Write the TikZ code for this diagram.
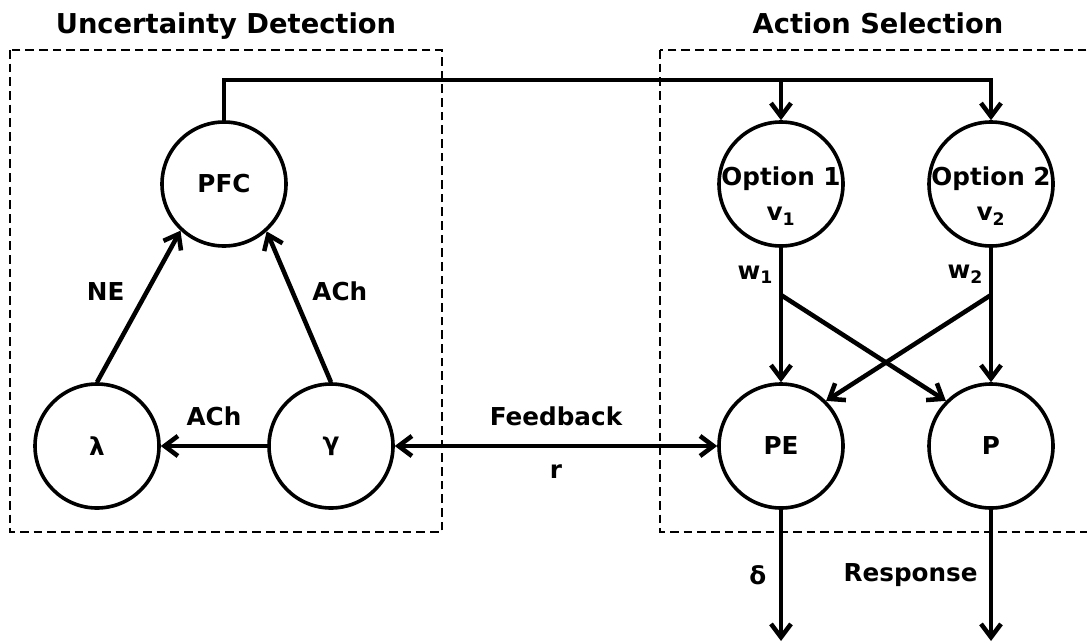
\documentclass[tikz,border=0pt]{standalone}
\usepackage{fontspec}
\setmainfont{DejaVu Sans}
\usetikzlibrary{arrows.meta}
\newcommand{\nodefont}{\bfseries\fontsize{18.5pt}{22.5pt}\selectfont}
\newcommand{\optfont}{\bfseries\fontsize{18.5pt}{26pt}\selectfont}
\newcommand{\titlefont}{\bfseries\fontsize{20.5pt}{24pt}\selectfont}

\begin{document}
\begin{tikzpicture}
[x=0.75pt,y=-0.75pt,font=\nodefont,
  >={Straight Barb[length=10pt,width=15pt]},
  nodedecorate/.style={shape=circle,draw,line width=2.7pt,minimum size=93pt,inner sep=0pt},%
  linedecorate/.style={->,line width=3.4pt},%
  boxdecorate/.style={draw,line width=1.1pt,dash pattern=on 6.5pt off 3.75pt}]
\useasboundingbox (0,0) rectangle (1087,642);
%% groups
\draw[boxdecorate] (10,50) rectangle (442,532);
\draw[boxdecorate] (660,50) rectangle (1095,532);
\node (udtitle) at (226,34) [anchor=base,font=\titlefont] {Uncertainty Detection};
\node (astitle) at (878,34) [anchor=base,font=\titlefont] {Action Selection};
%% nodes or vertices
\foreach \nodename/\x/\y/\nodetext in {PFC/224/184/PFC, lam/97/446/λ,
  gam/331/446/γ, PE/781/446/PE, P/991/446/P} {
  \node (\nodename) at (\x,\y) [nodedecorate] {\nodetext};
}
\foreach \nodename/\x/\idx in {opt1/781/1, opt2/991/2} {
  \node (\nodename) at (\x,184) [nodedecorate,
    label={[align=center,yshift=-9pt,font=\optfont]center:{Option \idx\\v\textsubscript{\idx}}}] {};
}
\coordinate (bus) at (224,80);
\coordinate (b1) at (781,295);
\coordinate (b2) at (991,295);
\coordinate (out1) at (781,641);
\coordinate (out2) at (991,641);
%% edges or lines
\draw[linedecorate] (PFC.north) -- (bus) -| (opt2.north);
\draw[linedecorate] (opt1 |- bus) -- (opt1.north);
\draw[linedecorate] (lam.north) -- node[pos=0.6,left=12pt] {NE} (PFC.227);
\draw[linedecorate] (gam.north) -- node[pos=0.6,right=10pt] {ACh} (PFC.-48);
\draw[linedecorate] (gam) -- node[above=10pt] {ACh} (lam);
\draw[<->,line width=3.4pt] (gam) -- node[above=10pt] {Feedback}
  node[below=9pt] {r} (PE);
\draw[linedecorate] (opt1) -- node[pos=0.2,left=1pt] {w\textsubscript{1}} (PE);
\draw[linedecorate] (opt2) -- node[pos=0.2,left=1pt] {w\textsubscript{2}} (P);
\path
\foreach \startnode/\endnode in {b1/P.135, b2/PE.45} {
  (\startnode) edge[linedecorate] (\endnode)
};
\draw[linedecorate] (PE) -- node[left=6pt] {δ} (out1);
\draw[linedecorate] (P) -- node[left=5pt] {Response} (out2);
\end{tikzpicture}
\end{document}
